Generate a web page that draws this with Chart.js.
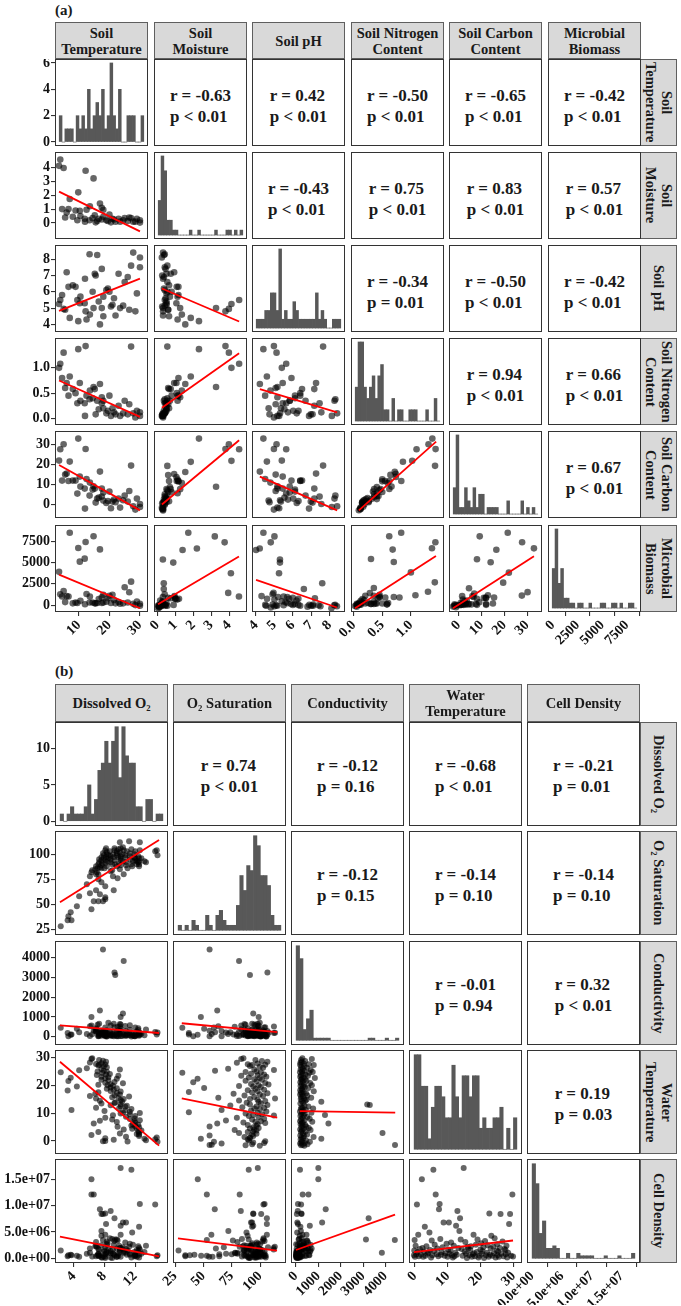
<!DOCTYPE html>
<html>
<head>
<meta charset="utf-8">
<title>Correlation matrices</title>
<script src="https://cdn.jsdelivr.net/npm/chart.js@4.4.1/dist/chart.umd.min.js"></script>
<style>
  html, body { margin: 0; padding: 0; background: #fff; }
  body { position: relative; width: 681px; height: 1306px; overflow: hidden;
         font-family: "Liberation Serif", "Times New Roman", serif; color: #1a1a1a; }
  canvas { position: absolute; }
  .tag { position: absolute; left: 55px; font-weight: bold; font-size: 15px; line-height: 15px; }
  .strip { position: absolute; box-sizing: border-box; background: #d9d9d9; border: 1px solid #5f5f5f;
           display: flex; align-items: center; justify-content: center; text-align: center;
           font-weight: bold; font-size: 14.5px; line-height: 16px; white-space: pre; }
  .strip.side { writing-mode: vertical-rl; }
  .frame { position: absolute; box-sizing: border-box; border: 1.5px solid #333; pointer-events: none; }
  .corr { display: flex; flex-direction: column; align-items: center; justify-content: center;
          font-weight: bold; font-size: 17px; line-height: 21px; background: #fff; }
</style>
</head>
<body>
<div class="tag" style="top:3px">(a)</div>
<div class="tag" style="top:664px">(b)</div>
<script>
// ---------- Panel (a): soil variables ----------
const soilNames = ['Soil\nTemperature', 'Soil\nMoisture', 'Soil pH', 'Soil Nitrogen\nContent', 'Soil Carbon\nContent', 'Microbial\nBiomass'];

const soilTemp = [3.5,3.9,5.0,12.2,14.8,9.8,7.0,16.9,27.1,10.3, 4.5,6.6,8.9,12.5,13.6,17.5,18.0,6.0,15.2,20.0,
  11.9,13.5,16.0,27.8,30.0,30.0,17.5,23.0,22.0,18.0, 19.5,21.0,20.5,24.5,25.0,26.5,28.5,14.5,10.5,8.0,
  5.5,12.0,15.5,19.0,21.5,23.5,16.5,26.0,9.5,29.0];
const soilMoist = [4.10,4.55,3.95,3.75,3.20,2.20,1.72,1.40,0.35,0.88, 1.00,1.00,0.90,0.95,1.20,1.10,0.95,0.75,0.55,0.60,
  0.30,0.20,0.15,0.10,0.03,0.20,0.25,0.30,0.10,0.45, 0.15,0.30,0.05,0.20,0.35,0.40,0.10,0.35,0.50,0.45,
  0.40,0.10,0.05,0.20,0.25,0.10,0.30,0.15,0.20,0.30];
const soilPH = [5.25,5.50,4.95,4.80,5.00,4.20,4.40,4.00,7.60,5.30, 5.80,6.30,6.30,4.30,4.60,5.00,5.70,7.20,7.10,6.00,
  5.30,8.30,8.25,8.40,8.10,7.50,7.40,7.10,4.55,4.50, 6.20,5.20,5.10,5.15,6.60,4.90,4.80,6.00,5.70,6.40,
  4.90,6.80,7.00,6.10,5.60,5.00,5.40,6.90,5.50,5.90];
const soilN = [1.00,1.08,1.30,1.43,0.62,1.37,0.83,0.68,1.42,0.70, 0.80,0.45,0.50,0.45,0.55,0.42,0.35,0.70,0.58,0.45,
  0.30,0.38,0.35,0.10,0.05,0.12,0.30,0.25,0.08,0.20, 0.15,0.20,0.05,0.10,0.35,0.28,0.02,0.40,0.35,0.58,
  0.60,0.05,0.08,0.10,0.12,0.05,0.18,0.08,0.30,0.15];
const soilC = [22.0,27.7,30.2,27.8,9.2,33.0,21.5,16.5,19.5,14.0, 12.0,11.8,12.0,12.8,11.0,8.0,6.0,15.5,8.0,6.5,
  8.0,4.5,3.0,-0.8,-1.2,0.3,4.0,3.0,1.2,2.0, 1.8,1.5,-1.8,2.2,4.5,6.8,-2.5,7.5,9.0,12.0,
  15.0,-2.0,1.0,0.8,2.5,-1.5,3.5,1.5,5.5,3.0];
const soilBio = [3900,1260,1660,7400,8080,6700,8490,6540,2750,5100, 1000,1000,300,1300,1000,900,1200,1050,200,1100,
  5450,300,250,150,-80,150,250,350,200,300, 800,1200,250,200,2100,1500,0,300,500,200,
  350,100,200,400,600,150,700,300,250,400];

// data range of each variable (min, max)
const soilRange = [[3.5, 30], [0.03, 4.55], [4.0, 8.4], [0.02, 1.44], [-2.5, 33], [-80, 8490]];

// histogram counts, 30 bins over each range
const histSoilTemp = [2,0,1,1,1,0,2,1,2,1,4,1,2,3,2,4,1,2,6,2,1,4,0,0,2,2,2,0,0,2];
const histSoilMoist = [7,16,13,3,3,1,1,0,0,0,0,1,0,0,1,0,0,0,0,0,1,0,0,0,1,1,0,1,0,1];
const histSoilPH = [1,1,1,2,2,4,4,2,9,1,2,1,1,3,2,1,1,1,1,1,1,4,1,2,1,0,0,1,1,1];
const histSoilN = [3,7,7,3,2,3,4,2,4,5,1,1,0,2,0,1,1,0,0,1,1,1,0,0,0,1,0,0,2,0];
const histSoilC = [4,12,1,1,4,2,1,4,1,3,3,0,1,1,1,1,0,0,0,2,0,0,0,0,2,0,1,0,1,0];
const histSoilBio = [8,16,5,8,2,2,1,1,0,1,1,0,0,1,0,0,0,1,1,0,0,1,1,0,1,0,0,1,1,0];

const soilTicks = [[10,20,30], [0,1,2,3,4], [4,5,6,7,8], [0,0.5,1], [0,10,20,30], [0,2500,5000,7500]];
const soilTickLabels = [['10','20','30'], ['0','1','2','3','4'], ['4','5','6','7','8'],
  ['0.0','0.5','1.0'], ['0','10','20','30'], ['0','2500','5000','7500']];
const soilCountTicks = [0, 2, 4, 6];

// upper triangle, row by row
const soilR = [-0.63, 0.42, -0.50, -0.65, -0.42, -0.43, 0.75, 0.83, 0.57, -0.34, -0.50, -0.42, 0.94, 0.66, 0.67];
const soilP = ['< 0.01','< 0.01','< 0.01','< 0.01','< 0.01','< 0.01','< 0.01','< 0.01','< 0.01',
  '= 0.01','< 0.01','< 0.01','< 0.01','< 0.01','< 0.01'];

// fitted lines in the lower triangle, row by row: [x0, y0, x1, y1]
const soilFits = [
  [3.5, 2.25, 30, -0.6],
  [3.5, 4.83, 30, 6.81], [0.03, 6.2, 4.55, 4.18],
  [3.5, 0.75, 30, 0.03], [0.03, 0.21, 4.55, 1.29], [4.0, 0.58, 8.4, 0.12],
  [3.5, 19.8, 30, -2.9], [0.03, 0.4, 4.55, 32.2], [4.0, 14.0, 8.4, -2.9], [0.02, -2.6, 1.44, 31.5],
  [3.5, 3580, 30, -370], [0.03, 370, 4.55, 5790], [4.0, 3140, 8.4, 0], [0.02, -250, 1.44, 5790], [-2.5, -190, 33, 5790]
];

// ---------- Panel (b): water variables ----------
const waterNames = ['Dissolved O\u2082', 'O\u2082 Saturation', 'Conductivity', 'Water\nTemperature', 'Cell Density'];

const dissolvedO2 = [6.4,6.3,7.3,7.8,8.2,6.1,7.6,6.9,8.1,7.3, 7.2,7.9,8.3,5.7,7.6,10.0,4.7,7.9,7.1,8.3,
  2.3,7.7,8.7,8.2,7.0,9.8,7.6,8.5,3.6,8.1, 9.6,7.6,8.5,3.3,9.3,8.1,10.4,8.8,7.2,8.4,
  9.1,4.4,8.8,9.6,8.3,9.2,3.2,8.8,10.1,7.2, 9.6,6.8,10.0,9.3,6.1,11.2,9.0,9.8,6.9,10.5,
  10.1,7.4,10.3,9.4,9.3,7.6,10.1,8.8,10.9,10.1, 10.7,6.9,9.9,11.5,3.7,10.7,8.0,11.3,10.4,12.6,
  10.1,11.3,9.1,12.0,10.8,8.1,11.9,11.3,9.0,12.6, 7.4,11.9,9.6,12.0,6.6,11.7,12.4,11.5,12.0,9.7,
  12.5,12.2,11.6,10.5,12.8,12.4,7.2,12.5,10.0,12.2, 12.5,6.3,12.5,10.8,14.8,8.1,13.2,14.6,9.2,13.4,
  8.1,7.8,11.0,14.9];
const o2Saturation = [84,82,95,101,106,78,97,88,104,92, 90,99,102,70,94,112,58,96,86,100,
  28,91,103,97,82,105,89,99,42,94, 101,86,96,38,104,91,107,98,80,93,
  100,48,95,103,88,97,34,92,106,75, 99,85,102,94,61,113,90,97,80,104,
  98,87,100,90,106,72,96,83,103,94, 99,64,91,105,34,97,86,101,93,112,
  89,98,78,103,92,68,100,95,84,104, 60,97,88,96,53,93,98,90,94,76,
  96,93,88,80,96,92,53,93,85,90, 90,45,88,89,104,57,93,103,64,92,
  55,53,86,99];
const conductivity = [120,560,60,250,90,30,180,420,15,650, 200,70,330,140,40,510,220,100,600,10,
  450,130,260,55,380,20,170,700,95,240, 60,310,140,25,480,75,200,560,35,160,
  240,400,85,120,20,650,180,50,290,110, 15,350,140,70,530,200,45,310,260,90,
  1000,160,30,3130,3250,220,400,80,130,620, 50,280,170,10,110,540,230,70,1170,190,
  30,350,120,460,60,210,15,580,140,90, 1330,40,250,130,300,75,420,180,20,500,
  100,260,55,3840,150,340,25,200,640,80, 160,1000,40,290,110,470,70,230,15,360,
  130,4420,60,210];
const waterTemp = [29.8,29.6,29.2,28.9,28.6,28.3,28.0,27.8,27.6,27.5, 27.2,26.9,26.6,26.2,26.0,25.8,25.5,25.3,25.1,25.0,
  24.8,24.5,24.2,24.0,23.8,23.5,23.2,23.0,22.8,22.6, 22.4,22.1,21.9,21.6,21.3,21.0,20.8,20.5,20.3,20.1,
  19.9,19.6,19.3,19.0,18.8,18.5,18.2,18.0,17.8,17.6, 17.3,17.0,16.8,16.5,16.2,16.0,15.8,15.5,15.3,15.1,
  14.8,14.5,14.2,13.9,13.7,13.5,13.2,12.9,12.7,12.5, 12.3,12.0,11.8,11.5,11.2,11.0,10.8,10.5,10.3,10.1,
  9.9,9.6,9.3,9.0,8.7,8.4,8.1,7.9,7.7,7.5, 7.3,7.1,6.8,6.6,6.3,6.0,5.8,5.6,5.3,5.1,
  4.9,4.6,4.4,4.1,3.8,3.5,3.2,3.0,2.7,2.5, 2.3,2.1,1.8,1.5,1.2,1.0,0.8,0.6,0.4,0.2,
  0.0,-0.1,-0.2,-0.3];
const cellDensity = [0.35e6,12.1e6,0.5e6,8.4e6,6.5e6,1.1e6,0.2e6,2.4e6,0.8e6,1.6e6, 1.8e6,0.4e6,3.2e6,0.9e6,8.4e6,2.0e6,0.3e6,1.3e6,0.6e6,2.7e6,
  1.5e6,0.2e6,3.8e6,1.0e6,2.2e6,0.5e6,4.3e6,1.9e6,0.7e6,8.5e6, 0.3e6,2.5e6,1.1e6,0.6e6,3.3e6,0.1e6,2.1e6,1.4e6,0.9e6,2.9e6,
  1.7e6,0.5e6,0.2e6,3.6e6,1.2e6,2.6e6,0.4e6,1.0e6,4.5e6,0.8e6, 0.3e6,2.3e6,1.6e6,0.6e6,1.9e6,2.2e6,0.1e6,0.9e6,3.1e6,1.3e6,
  17.1e6,0.5e6,1.8e6,3.6e6,7.6e6,5.2e6,2.0e6,9.0e6,0.7e6,6.2e6, 1.1e6,0.4e6,2.4e6,0.2e6,0.6e6,3.0e6,1.5e6,0.9e6,6.8e6,1.7e6,
  0.3e6,2.8e6,1.0e6,0.5e6,6.8e6,2.1e6,1.2e6,0.7e6,3.7e6,10.3e6, 9.3e6,0.4e6,1.9e6,0.8e6,12.1e6,2.6e6,1.4e6,16.8e6,0.6e6,3.4e6,
  0.2e6,1.6e6,4.9e6,1.1e6,0.9e6,2.3e6,0.5e6,6.0e6,1.3e6,0.3e6, 2.0e6,15.0e6,0.7e6,1.8e6,0.4e6,4.5e6,1.2e6,10.2e6,0.8e6,2.4e6,
  0.3e6,3.5e6,1.5e6,0.6e6];

const waterRange = [[2.2, 15.1], [27.5, 115], [0, 4430], [-0.3, 29.8], [0, 17.2e6]];

const histDO = [1,0,1,2,1,1,1,2,5,1,3,7,8,11,8,11,13,6,13,9,8,8,2,2,0,3,3,0,1,1];
const histSat = [1,0,1,0,2,1,0,0,3,1,0,3,4,2,1,1,1,5,11,8,13,12,19,17,11,11,9,3,1,1];
const histCond = [44,38,5,10,14,1,1,1,1,1,0,0,0,0,0,0,0,0,0,0,0,1,1,0,0,0,1,0,0,1];
const histWT = [9,9,6,6,1,4,6,6,5,3,3,8,5,3,7,7,5,7,7,2,3,2,2,3,3,4,0,2,0,3];
const histCD = [38,30,10,15,4,4,5,4,0,0,2,0,0,2,1,1,1,1,0,0,0,1,0,0,0,1,0,0,0,2];

const waterTicks = [[4,8,12], [25,50,75,100], [0,1000,2000,3000,4000], [0,10,20,30], [0,5e6,1e7,1.5e7]];
const waterTickLabels = [['4','8','12'], ['25','50','75','100'], ['0','1000','2000','3000','4000'],
  ['0','10','20','30'], ['0.0e+00','5.0e+06','1.0e+07','1.5e+07']];
const waterCountTicks = [0, 5, 10];

const waterR = [0.74, -0.12, -0.68, -0.21, -0.12, -0.14, -0.14, -0.01, 0.32, 0.19];
const waterP = ['< 0.01','= 0.16','< 0.01','= 0.01','= 0.15','= 0.10','= 0.10','= 0.94','< 0.01','= 0.03'];

const waterFits = [
  [2.2, 51.9, 15.1, 114.4],
  [2.2, 570, 15.1, 185], [27.5, 680, 115, 230],
  [2.2, 28.6, 15.1, -1.7], [27.5, 16.0, 115, 9.4], [0, 11.6, 4430, 11.1],
  [2.2, 4.15e6, 15.1, 0.4e6], [27.5, 3.8e6, 115, 1.5e6], [0, 1.6e6, 4430, 8.3e6], [-0.3, 1.2e6, 29.8, 3.4e6]
];

// ---------- Drawing ----------
Chart.defaults.font.family = '"Liberation Serif", "Times New Roman", serif';

function expand(lo, hi) {
  const d = (hi - lo) * 0.05;
  return [lo - d, hi + d];
}

function addDiv(cls, left, top, w, h, html) {
  const d = document.createElement('div');
  d.className = cls;
  d.style.left = left + 'px';
  d.style.top = top + 'px';
  d.style.width = w + 'px';
  d.style.height = h + 'px';
  if (html !== undefined) d.innerHTML = html;
  document.body.appendChild(d);
  return d;
}

function axisCfg(range, show, vals, labels, isX, size) {
  return {
    type: 'linear', min: range[0], max: range[1], offset: false, display: show,
    grid: { display: true, drawOnChartArea: false, drawTicks: true, tickLength: 4, color: '#333', lineWidth: 1.1 },
    border: { display: false },
    afterBuildTicks: s => { if (vals) s.ticks = vals.map(v => ({ value: v })); },
    afterFit: s => {
      const sz = show ? size : 0;
      if (isX) { s.height = sz; s.paddingLeft = 0; s.paddingRight = 0; }
      else { s.width = sz; s.paddingTop = 0; s.paddingBottom = 0; }
    },
    ticks: {
      autoSkip: false, padding: 1, color: '#111',
      font: { size: 14, weight: 'bold' },
      maxRotation: isX ? 45 : 0, minRotation: isX ? 45 : 0,
      callback: v => { const k = vals ? vals.indexOf(v) : -1; return k >= 0 ? labels[k] : ''; }
    }
  };
}

function buildPanel(p) {
  const n = p.vars.length;
  let corrK = 0, fitK = 0;

  for (let j = 0; j < n; j++) {
    const left = Math.round(p.x0 + j * p.dx);
    addDiv('strip', left, p.stripTop, p.w, p.stripH, p.names[j]);
  }
  for (let i = 0; i < n; i++) {
    const top = Math.round(p.y0 + i * p.dy);
    addDiv('strip side', p.sideX, top, p.sideW, p.h, p.names[i]);
  }

  for (let i = 0; i < n; i++) {
    for (let j = 0; j < n; j++) {
      const left = Math.round(p.x0 + j * p.dx);
      const top = Math.round(p.y0 + i * p.dy);

      if (j > i) {
        const r = p.r[corrK], pv = p.pv[corrK];
        corrK++;
        const d = addDiv('frame corr', left, top, p.w, p.h, 'r = ' + r.toFixed(2) + '<br>p ' + pv);
        d.style.paddingTop = p.corrShift + 'px';
        continue;
      }

      const isLeft = j === 0, isBottom = i === n - 1;
      const extraL = isLeft ? left : (isBottom ? 48 : 0);
      const extraB = isBottom ? p.axisH : 0;

      const cv = document.createElement('canvas');
      cv.width = p.w + extraL;
      cv.height = p.h + extraB;
      cv.style.left = (left - extraL) + 'px';
      cv.style.top = top + 'px';
      cv.style.width = cv.width + 'px';
      cv.style.height = cv.height + 'px';
      document.body.appendChild(cv);

      const xRange = expand(p.ranges[j][0], p.ranges[j][1]);
      let yRange, config;

      if (i === j) {
        const counts = p.hists[i];
        const lo = p.ranges[i][0], hi = p.ranges[i][1];
        const bw = (hi - lo) / counts.length;
        yRange = expand(0, Math.max(...counts));
        config = {
          type: 'bar',
          data: { datasets: [{
            data: counts.map((c, k) => ({ x: lo + (k + 0.5) * bw, y: c })),
            backgroundColor: '#585858', borderWidth: 0,
            barPercentage: 1, categoryPercentage: 1, grouped: false
          }] }
        };
      } else {
        const f = p.fits[fitK];
        fitK++;
        const yLo = Math.min(p.ranges[i][0], f[1], f[3]);
        const yHi = Math.max(p.ranges[i][1], f[1], f[3]);
        yRange = expand(yLo, yHi);
        const xs = p.vars[j], ys = p.vars[i];
        config = {
          type: 'scatter',
          data: { datasets: [
            { data: [{ x: f[0], y: f[1] }, { x: f[2], y: f[3] }], showLine: true,
              borderColor: '#ff0000', borderWidth: 1.8, pointRadius: 0, fill: false },
            { data: xs.map((x, k) => ({ x: x, y: ys[k] })), pointRadius: p.pointR,
              backgroundColor: 'rgba(0,0,0,0.6)', borderWidth: 0 }
          ] }
        };
      }

      const yVals = isLeft ? (i === 0 ? p.countTicks : p.ticks[i]) : null;
      const yLabels = isLeft ? (i === 0 ? p.countTicks.map(String) : p.tickLabels[i]) : null;
      const xVals = isBottom ? p.ticks[j] : null;
      const xLabels = isBottom ? p.tickLabels[j] : null;

      config.options = {
        responsive: false, animation: false, events: [],
        layout: { padding: { left: isLeft ? 0 : extraL, right: 0, top: 0, bottom: 0 } },
        plugins: { legend: { display: false }, tooltip: { enabled: false } },
        scales: {
          x: axisCfg(xRange, isBottom, xVals, xLabels, true, extraB),
          y: axisCfg(yRange, isLeft, yVals, yLabels, false, extraL)
        }
      };
      new Chart(cv, config);
      addDiv('frame', left, top, p.w, p.h);
    }
  }
}

buildPanel({
  names: soilNames,
  vars: [soilTemp, soilMoist, soilPH, soilN, soilC, soilBio],
  ranges: soilRange,
  hists: [histSoilTemp, histSoilMoist, histSoilPH, histSoilN, histSoilC, histSoilBio],
  ticks: soilTicks, tickLabels: soilTickLabels, countTicks: soilCountTicks,
  r: soilR, pv: soilP, fits: soilFits,
  x0: 55, dx: 98.5, w: 93, y0: 59, dy: 93.1, h: 87,
  stripTop: 22, stripH: 37, sideX: 640, sideW: 37, axisH: 50, pointR: 3.3, corrShift: 7
});

buildPanel({
  names: waterNames,
  vars: [dissolvedO2, o2Saturation, conductivity, waterTemp, cellDensity],
  ranges: waterRange,
  hists: [histDO, histSat, histCond, histWT, histCD],
  ticks: waterTicks, tickLabels: waterTickLabels, countTicks: waterCountTicks,
  r: waterR, pv: waterP, fits: waterFits,
  x0: 55, dx: 118, w: 113, y0: 722, dy: 109.3, h: 104,
  stripTop: 684, stripH: 38, sideX: 640, sideW: 37, axisH: 42, pointR: 3.0, corrShift: 4
});
</script>
</body>
</html>
